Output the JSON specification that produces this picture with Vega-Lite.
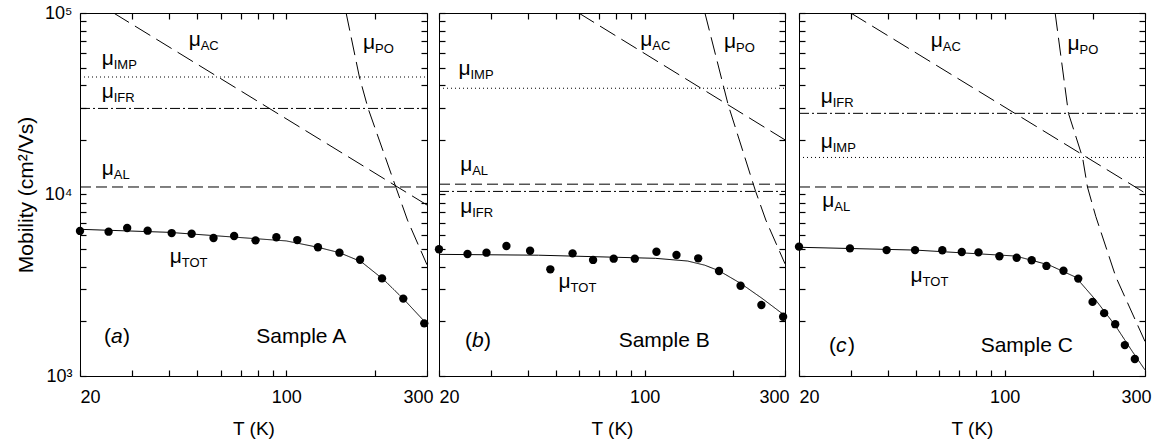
{
  "$schema": "https://vega.github.io/schema/vega-lite/v6.json",
  "padding": {"left": 14, "top": 3, "right": 5, "bottom": 5},
  "background": "white",
  "datasets": {
    "pts": [
      {"p":"A","T":20,"mu":6300},{"p":"A","T":25.0,"mu":6240},{"p":"A","T":28.9,"mu":6540},{"p":"A","T":33.9,"mu":6320},{"p":"A","T":40.9,"mu":6130},{"p":"A","T":47.8,"mu":6080},{"p":"A","T":56.7,"mu":5760},{"p":"A","T":66.6,"mu":5910},{"p":"A","T":78.7,"mu":5590},{"p":"A","T":92.6,"mu":5810},{"p":"A","T":109,"mu":5610},{"p":"A","T":128.1,"mu":5120},{"p":"A","T":151.5,"mu":4780},{"p":"A","T":177.9,"mu":4370},{"p":"A","T":211.2,"mu":3450},{"p":"A","T":249.3,"mu":2670},{"p":"A","T":293.6,"mu":1950},
      {"p":"B","T":20,"mu":4990},{"p":"B","T":25.0,"mu":4700},{"p":"B","T":29.0,"mu":4780},{"p":"B","T":33.9,"mu":5200},{"p":"B","T":40.8,"mu":4900},{"p":"B","T":47.8,"mu":3870},{"p":"B","T":56.9,"mu":4740},{"p":"B","T":66.8,"mu":4360},{"p":"B","T":78.5,"mu":4430},{"p":"B","T":92.6,"mu":4430},{"p":"B","T":109.7,"mu":4840},{"p":"B","T":128.3,"mu":4640},{"p":"B","T":152.1,"mu":4450},{"p":"B","T":179,"mu":3790},{"p":"B","T":211.9,"mu":3140},{"p":"B","T":249.4,"mu":2460},{"p":"B","T":295.6,"mu":2120},
      {"p":"C","T":20,"mu":5160},{"p":"C","T":29.8,"mu":5050},{"p":"C","T":39.7,"mu":4940},{"p":"C","T":49.6,"mu":4940},{"p":"C","T":61.4,"mu":4930},{"p":"C","T":71.5,"mu":4820},{"p":"C","T":81.5,"mu":4800},{"p":"C","T":96,"mu":4570},{"p":"C","T":109.9,"mu":4480},{"p":"C","T":123.6,"mu":4340},{"p":"C","T":138.7,"mu":4040},{"p":"C","T":158.5,"mu":3800},{"p":"C","T":177.9,"mu":3440},{"p":"C","T":199,"mu":2560},{"p":"C","T":217.9,"mu":2220},{"p":"C","T":237.6,"mu":1930},{"p":"C","T":256.2,"mu":1480},{"p":"C","T":277,"mu":1240}
    ],
    "curves": [
      {"p":"A","c":"IMP","T":20,"mu":44400},{"p":"A","c":"IMP","T":300,"mu":44400},
      {"p":"A","c":"IFR","T":20,"mu":29800},{"p":"A","c":"IFR","T":300,"mu":29800},
      {"p":"A","c":"AL","T":20,"mu":11000},{"p":"A","c":"AL","T":300,"mu":11000},
      {"p":"A","c":"AC","T":26,"mu":100000},{"p":"A","c":"AC","T":300,"mu":8750},
      {"p":"A","c":"PO","T":159.6,"mu":100000},{"p":"A","c":"PO","T":177,"mu":44400},{"p":"A","c":"PO","T":189.3,"mu":29900},{"p":"A","c":"PO","T":235.6,"mu":10900},{"p":"A","c":"PO","T":257.6,"mu":7230},{"p":"A","c":"PO","T":300,"mu":4100},
      {"p":"A","c":"TOT","T":20,"mu":6430},{"p":"A","c":"TOT","T":39.9,"mu":6190},{"p":"A","c":"TOT","T":100,"mu":5550},{"p":"A","c":"TOT","T":128,"mu":5120},{"p":"A","c":"TOT","T":151.5,"mu":4780},{"p":"A","c":"TOT","T":179.3,"mu":4270},{"p":"A","c":"TOT","T":214.6,"mu":3380},{"p":"A","c":"TOT","T":251.8,"mu":2620},{"p":"A","c":"TOT","T":300,"mu":1930},
      {"p":"B","c":"IMP","T":20,"mu":38500},{"p":"B","c":"IMP","T":300,"mu":38500},
      {"p":"B","c":"AL","T":20,"mu":11400},{"p":"B","c":"AL","T":300,"mu":11400},
      {"p":"B","c":"IFR","T":20,"mu":10400},{"p":"B","c":"IFR","T":300,"mu":10400},
      {"p":"B","c":"AC","T":59.7,"mu":100000},{"p":"B","c":"AC","T":300,"mu":20000},
      {"p":"B","c":"PO","T":160.3,"mu":100000},{"p":"B","c":"PO","T":186.1,"mu":38500},{"p":"B","c":"PO","T":192.4,"mu":31100},{"p":"B","c":"PO","T":238.4,"mu":10400},{"p":"B","c":"PO","T":258.2,"mu":7230},{"p":"B","c":"PO","T":300,"mu":4150},
      {"p":"B","c":"TOT","T":20,"mu":4680},{"p":"B","c":"TOT","T":43.6,"mu":4630},{"p":"B","c":"TOT","T":108.8,"mu":4450},{"p":"B","c":"TOT","T":140,"mu":4300},{"p":"B","c":"TOT","T":160,"mu":4080},{"p":"B","c":"TOT","T":179,"mu":3800},{"p":"B","c":"TOT","T":211.9,"mu":3240},{"p":"B","c":"TOT","T":250.5,"mu":2680},{"p":"B","c":"TOT","T":300,"mu":2150},
      {"p":"C","c":"IFR","T":20,"mu":28000},{"p":"C","c":"IFR","T":300,"mu":28000},
      {"p":"C","c":"IMP","T":20,"mu":16000},{"p":"C","c":"IMP","T":300,"mu":16000},
      {"p":"C","c":"AL","T":20,"mu":11000},{"p":"C","c":"AL","T":300,"mu":11000},
      {"p":"C","c":"AC","T":30,"mu":100000},{"p":"C","c":"AC","T":300,"mu":10200},
      {"p":"C","c":"PO","T":148.5,"mu":100000},{"p":"C","c":"PO","T":164.8,"mu":28000},{"p":"C","c":"PO","T":184,"mu":16000},{"p":"C","c":"PO","T":191.2,"mu":11000},{"p":"C","c":"PO","T":204.2,"mu":7550},{"p":"C","c":"PO","T":238.7,"mu":3520},{"p":"C","c":"PO","T":300,"mu":1550},
      {"p":"C","c":"TOT","T":20,"mu":5120},{"p":"C","c":"TOT","T":49.8,"mu":4940},{"p":"C","c":"TOT","T":109.1,"mu":4580},{"p":"C","c":"TOT","T":141.6,"mu":4090},{"p":"C","c":"TOT","T":174.6,"mu":3500},{"p":"C","c":"TOT","T":204,"mu":2620},{"p":"C","c":"TOT","T":238.7,"mu":1880},{"p":"C","c":"TOT","T":272.1,"mu":1360},{"p":"C","c":"TOT","T":300,"mu":1080}
    ],
    "labels": [
      {"p":"A","sub":"AC","T":46.7,"mu":65800},{"p":"A","sub":"PO","T":182,"mu":63400},{"p":"A","sub":"IMP","T":23.7,"mu":51700},{"p":"A","sub":"IFR","T":23.7,"mu":34000},{"p":"A","sub":"AL","T":23.7,"mu":12800},{"p":"A","sub":"TOT","T":40.3,"mu":4200},
      {"p":"B","sub":"AC","T":96.7,"mu":65800},{"p":"B","sub":"PO","T":186.1,"mu":63900},{"p":"B","sub":"IMP","T":23.3,"mu":45500},{"p":"B","sub":"AL","T":23.6,"mu":13400},{"p":"B","sub":"IFR","T":23.6,"mu":7880},{"p":"B","sub":"TOT","T":51.0,"mu":3040},
      {"p":"C","sub":"AC","T":56.1,"mu":65200},{"p":"C","sub":"PO","T":163.6,"mu":62500},{"p":"C","sub":"IFR","T":23.7,"mu":31800},{"p":"C","sub":"IMP","T":23.7,"mu":18000},{"p":"C","sub":"AL","T":24.0,"mu":8560},{"p":"C","sub":"TOT","T":47.9,"mu":3310}
    ],
    "tags": [
      {"p":"A","letter":"a","T":24.1,"mu":1520},{"p":"B","letter":"b","T":24.5,"mu":1450},{"p":"C","letter":"c","T":25.3,"mu":1360}
    ],
    "samples": [
      {"p":"A","name":"Sample A","T":79.2,"mu":1520},{"p":"B","name":"Sample B","T":81.6,"mu":1450},{"p":"C","name":"Sample C","T":82.9,"mu":1360}
    ]
  },
  "bounds": "flush",
  "spacing": 12,
  "hconcat": [
    {
      "width": 347, "height": 363,
      "layer": [
        {"data":{"name":"curves"},"transform":[{"filter":"datum.p == 'A'"}],
         "mark":{"type":"line","clip":true,"color":"black","strokeWidth":1},
         "encoding":{
           "x":{"field":"T","type":"quantitative","scale":{"type":"log","domain":[20,300],"nice":false},
                "axis":{"orient":"bottom","ticks":true,"values":[20,30,40,50,60,70,80,90,100,200,300],"labelExpr":"datum.value == 20 ? '20' : datum.value == 100 ? '100' : datum.value == 300 ? '300' : ''","labelOverlap":false,"labelFlush":true,"labelOffset":{"condition":{"test":"datum.value == 300","value":6},"value":0},"labelPadding":12,"title":"T (K)","titlePadding":13}},
           "y":{"field":"mu","type":"quantitative","scale":{"type":"log","domain":[1000,100000],"nice":false},
                "axis":{"orient":"left","ticks":true,"values":[1000,2000,3000,4000,5000,6000,7000,8000,9000,10000,20000,30000,40000,50000,60000,70000,80000,90000,100000],"labelExpr":"datum.value == 1000 ? '10³' : datum.value == 10000 ? '10⁴' : datum.value == 100000 ? '10⁵' : ''","labelOverlap":false,"labelPadding":8,"title":"Mobility (cm²/Vs)","titleFontSize":21,"titlePadding":8}},
           "strokeDash":{"field":"c","type":"nominal","scale":{"domain":["TOT","IMP","IFR","AL","AC","PO"],"range":[[1,0],[1,3],[10,3,2,3],[11,5],[18,7],[18,7]]},"legend":null}
         }},
        {"data":{"name":"pts"},"transform":[{"filter":"datum.p == 'A'"}],
         "mark":{"type":"circle","size":70,"color":"black","opacity":1},
         "encoding":{
           "x":{"field":"T","type":"quantitative","scale":{"type":"log","domain":[20,300],"nice":false},
                "axis":{"orient":"top","ticks":true,"values":[20,30,40,50,60,70,80,90,100,200,300],"labels":false,"title":null}},
           "y":{"field":"mu","type":"quantitative","scale":{"type":"log","domain":[1000,100000],"nice":false},
                "axis":{"orient":"right","ticks":true,"values":[1000,2000,3000,4000,5000,6000,7000,8000,9000,10000,20000,30000,40000,50000,60000,70000,80000,90000,100000],"labels":false,"title":null}}
         }},
        {"data":{"name":"labels"},"transform":[{"filter":"datum.p == 'A'"}],
         "mark":{"type":"text","text":"μ","align":"left","baseline":"alphabetic","fontSize":21,"color":"black"},
         "encoding":{"x":{"field":"T","type":"quantitative","axis":null},"y":{"field":"mu","type":"quantitative","axis":null}}},
        {"data":{"name":"labels"},"transform":[{"filter":"datum.p == 'A'"}],
         "mark":{"type":"text","align":"left","baseline":"alphabetic","fontSize":13,"dx":12,"dy":4,"color":"black"},
         "encoding":{"x":{"field":"T","type":"quantitative","axis":null},"y":{"field":"mu","type":"quantitative","axis":null},"text":{"field":"sub"}}},
        {"data":{"name":"tags"},"transform":[{"filter":"datum.p == 'A'"}],
         "mark":{"type":"text","text":"(","align":"left","baseline":"alphabetic","fontSize":21,"color":"black"},
         "encoding":{"x":{"field":"T","type":"quantitative","axis":null},"y":{"field":"mu","type":"quantitative","axis":null}}},
        {"data":{"name":"tags"},"transform":[{"filter":"datum.p == 'A'"}],
         "mark":{"type":"text","align":"left","baseline":"alphabetic","fontSize":21,"fontStyle":"italic","dx":7,"color":"black"},
         "encoding":{"x":{"field":"T","type":"quantitative","axis":null},"y":{"field":"mu","type":"quantitative","axis":null},"text":{"field":"letter"}}},
        {"data":{"name":"tags"},"transform":[{"filter":"datum.p == 'A'"}],
         "mark":{"type":"text","text":")","align":"left","baseline":"alphabetic","fontSize":21,"dx":19,"color":"black"},
         "encoding":{"x":{"field":"T","type":"quantitative","axis":null},"y":{"field":"mu","type":"quantitative","axis":null}}},
        {"data":{"name":"samples"},"transform":[{"filter":"datum.p == 'A'"}],
         "mark":{"type":"text","align":"left","baseline":"alphabetic","fontSize":21,"color":"black"},
         "encoding":{"x":{"field":"T","type":"quantitative","axis":null},"y":{"field":"mu","type":"quantitative","axis":null},"text":{"field":"name"}}}
      ],
      "resolve":{"axis":{"x":"independent","y":"independent"}}
    },
    {
      "bounds": "flush",
      "spacing": 14,
      "hconcat": [
        {
          "width": 346, "height": 363,
          "layer": [
            {"data":{"name":"curves"},"transform":[{"filter":"datum.p == 'B'"}],
             "mark":{"type":"line","clip":true,"color":"black","strokeWidth":1},
             "encoding":{
               "x":{"field":"T","type":"quantitative","scale":{"type":"log","domain":[20,300],"nice":false},
                    "axis":{"orient":"bottom","ticks":true,"values":[20,30,40,50,60,70,80,90,100,200,300],"labelExpr":"datum.value == 20 ? '20' : datum.value == 100 ? '100' : datum.value == 300 ? '300' : ''","labelOverlap":false,"labelFlush":true,"labelOffset":{"condition":{"test":"datum.value == 300","value":4},"value":0},"labelPadding":12,"title":"T (K)","titlePadding":13}},
               "y":{"field":"mu","type":"quantitative","scale":{"type":"log","domain":[1000,100000],"nice":false},
                    "axis":{"orient":"left","ticks":true,"values":[1000,2000,3000,4000,5000,6000,7000,8000,9000,10000,20000,30000,40000,50000,60000,70000,80000,90000,100000],"labels":false,"title":null}},
               "strokeDash":{"field":"c","type":"nominal","scale":{"domain":["TOT","IMP","IFR","AL","AC","PO"],"range":[[1,0],[1,3],[10,3,2,3],[11,5],[18,7],[18,7]]},"legend":null}
             }},
            {"data":{"name":"pts"},"transform":[{"filter":"datum.p == 'B'"}],
             "mark":{"type":"circle","size":70,"color":"black","opacity":1},
             "encoding":{
               "x":{"field":"T","type":"quantitative","scale":{"type":"log","domain":[20,300],"nice":false},
                    "axis":{"orient":"top","ticks":true,"values":[20,30,40,50,60,70,80,90,100,200,300],"labels":false,"title":null}},
               "y":{"field":"mu","type":"quantitative","scale":{"type":"log","domain":[1000,100000],"nice":false},
                    "axis":{"orient":"right","ticks":true,"values":[1000,2000,3000,4000,5000,6000,7000,8000,9000,10000,20000,30000,40000,50000,60000,70000,80000,90000,100000],"labels":false,"title":null}}
             }},
            {"data":{"name":"labels"},"transform":[{"filter":"datum.p == 'B'"}],
             "mark":{"type":"text","text":"μ","align":"left","baseline":"alphabetic","fontSize":21,"color":"black"},
             "encoding":{"x":{"field":"T","type":"quantitative","axis":null},"y":{"field":"mu","type":"quantitative","axis":null}}},
            {"data":{"name":"labels"},"transform":[{"filter":"datum.p == 'B'"}],
             "mark":{"type":"text","align":"left","baseline":"alphabetic","fontSize":13,"dx":12,"dy":4,"color":"black"},
             "encoding":{"x":{"field":"T","type":"quantitative","axis":null},"y":{"field":"mu","type":"quantitative","axis":null},"text":{"field":"sub"}}},
            {"data":{"name":"tags"},"transform":[{"filter":"datum.p == 'B'"}],
             "mark":{"type":"text","text":"(","align":"left","baseline":"alphabetic","fontSize":21,"color":"black"},
             "encoding":{"x":{"field":"T","type":"quantitative","axis":null},"y":{"field":"mu","type":"quantitative","axis":null}}},
            {"data":{"name":"tags"},"transform":[{"filter":"datum.p == 'B'"}],
             "mark":{"type":"text","align":"left","baseline":"alphabetic","fontSize":21,"fontStyle":"italic","dx":7,"color":"black"},
             "encoding":{"x":{"field":"T","type":"quantitative","axis":null},"y":{"field":"mu","type":"quantitative","axis":null},"text":{"field":"letter"}}},
            {"data":{"name":"tags"},"transform":[{"filter":"datum.p == 'B'"}],
             "mark":{"type":"text","text":")","align":"left","baseline":"alphabetic","fontSize":21,"dx":19,"color":"black"},
             "encoding":{"x":{"field":"T","type":"quantitative","axis":null},"y":{"field":"mu","type":"quantitative","axis":null}}},
            {"data":{"name":"samples"},"transform":[{"filter":"datum.p == 'B'"}],
             "mark":{"type":"text","align":"left","baseline":"alphabetic","fontSize":21,"color":"black"},
             "encoding":{"x":{"field":"T","type":"quantitative","axis":null},"y":{"field":"mu","type":"quantitative","axis":null},"text":{"field":"name"}}}
          ],
          "resolve":{"axis":{"x":"independent","y":"independent"}}
        },
        {
          "width": 346, "height": 363,
          "layer": [
            {"data":{"name":"curves"},"transform":[{"filter":"datum.p == 'C'"}],
             "mark":{"type":"line","clip":true,"color":"black","strokeWidth":1},
             "encoding":{
               "x":{"field":"T","type":"quantitative","scale":{"type":"log","domain":[20,300],"nice":false},
                    "axis":{"orient":"bottom","ticks":true,"values":[20,30,40,50,60,70,80,90,100,200,300],"labelExpr":"datum.value == 20 ? '20' : datum.value == 100 ? '100' : datum.value == 300 ? '300' : ''","labelOverlap":false,"labelFlush":true,"labelOffset":{"condition":{"test":"datum.value == 300","value":6},"value":0},"labelPadding":12,"title":"T (K)","titlePadding":13}},
               "y":{"field":"mu","type":"quantitative","scale":{"type":"log","domain":[1000,100000],"nice":false},
                    "axis":{"orient":"left","ticks":true,"values":[1000,2000,3000,4000,5000,6000,7000,8000,9000,10000,20000,30000,40000,50000,60000,70000,80000,90000,100000],"labels":false,"title":null}},
               "strokeDash":{"field":"c","type":"nominal","scale":{"domain":["TOT","IMP","IFR","AL","AC","PO"],"range":[[1,0],[1,3],[10,3,2,3],[11,5],[18,7],[18,7]]},"legend":null}
             }},
            {"data":{"name":"pts"},"transform":[{"filter":"datum.p == 'C'"}],
             "mark":{"type":"circle","size":70,"color":"black","opacity":1},
             "encoding":{
               "x":{"field":"T","type":"quantitative","scale":{"type":"log","domain":[20,300],"nice":false},
                    "axis":{"orient":"top","ticks":true,"values":[20,30,40,50,60,70,80,90,100,200,300],"labels":false,"title":null}},
               "y":{"field":"mu","type":"quantitative","scale":{"type":"log","domain":[1000,100000],"nice":false},
                    "axis":{"orient":"right","ticks":true,"values":[1000,2000,3000,4000,5000,6000,7000,8000,9000,10000,20000,30000,40000,50000,60000,70000,80000,90000,100000],"labels":false,"title":null}}
             }},
            {"data":{"name":"labels"},"transform":[{"filter":"datum.p == 'C'"}],
             "mark":{"type":"text","text":"μ","align":"left","baseline":"alphabetic","fontSize":21,"color":"black"},
             "encoding":{"x":{"field":"T","type":"quantitative","axis":null},"y":{"field":"mu","type":"quantitative","axis":null}}},
            {"data":{"name":"labels"},"transform":[{"filter":"datum.p == 'C'"}],
             "mark":{"type":"text","align":"left","baseline":"alphabetic","fontSize":13,"dx":12,"dy":4,"color":"black"},
             "encoding":{"x":{"field":"T","type":"quantitative","axis":null},"y":{"field":"mu","type":"quantitative","axis":null},"text":{"field":"sub"}}},
            {"data":{"name":"tags"},"transform":[{"filter":"datum.p == 'C'"}],
             "mark":{"type":"text","text":"(","align":"left","baseline":"alphabetic","fontSize":21,"color":"black"},
             "encoding":{"x":{"field":"T","type":"quantitative","axis":null},"y":{"field":"mu","type":"quantitative","axis":null}}},
            {"data":{"name":"tags"},"transform":[{"filter":"datum.p == 'C'"}],
             "mark":{"type":"text","align":"left","baseline":"alphabetic","fontSize":21,"fontStyle":"italic","dx":7,"color":"black"},
             "encoding":{"x":{"field":"T","type":"quantitative","axis":null},"y":{"field":"mu","type":"quantitative","axis":null},"text":{"field":"letter"}}},
            {"data":{"name":"tags"},"transform":[{"filter":"datum.p == 'C'"}],
             "mark":{"type":"text","text":")","align":"left","baseline":"alphabetic","fontSize":21,"dx":19,"color":"black"},
             "encoding":{"x":{"field":"T","type":"quantitative","axis":null},"y":{"field":"mu","type":"quantitative","axis":null}}},
            {"data":{"name":"samples"},"transform":[{"filter":"datum.p == 'C'"}],
             "mark":{"type":"text","align":"left","baseline":"alphabetic","fontSize":21,"color":"black"},
             "encoding":{"x":{"field":"T","type":"quantitative","axis":null},"y":{"field":"mu","type":"quantitative","axis":null},"text":{"field":"name"}}}
          ],
          "resolve":{"axis":{"x":"independent","y":"independent"}}
        }
      ]
    }
  ],
  "config": {
    "view": {"stroke": "black", "strokeWidth": 1},
    "axis": {"grid": false, "domain": false, "ticks": true, "offset": -6, "tickColor": "black", "tickOpacity": 1, "labelColor": "black", "titleColor": "black", "labelFont": "Liberation Sans", "titleFont": "Liberation Sans", "labelFontSize": 18, "titleFontSize": 19, "titleFontWeight": "normal", "tickSize": 6, "tickWidth": 1.2},
    "text": {"font": "Liberation Sans", "color": "black"}
  }
}
